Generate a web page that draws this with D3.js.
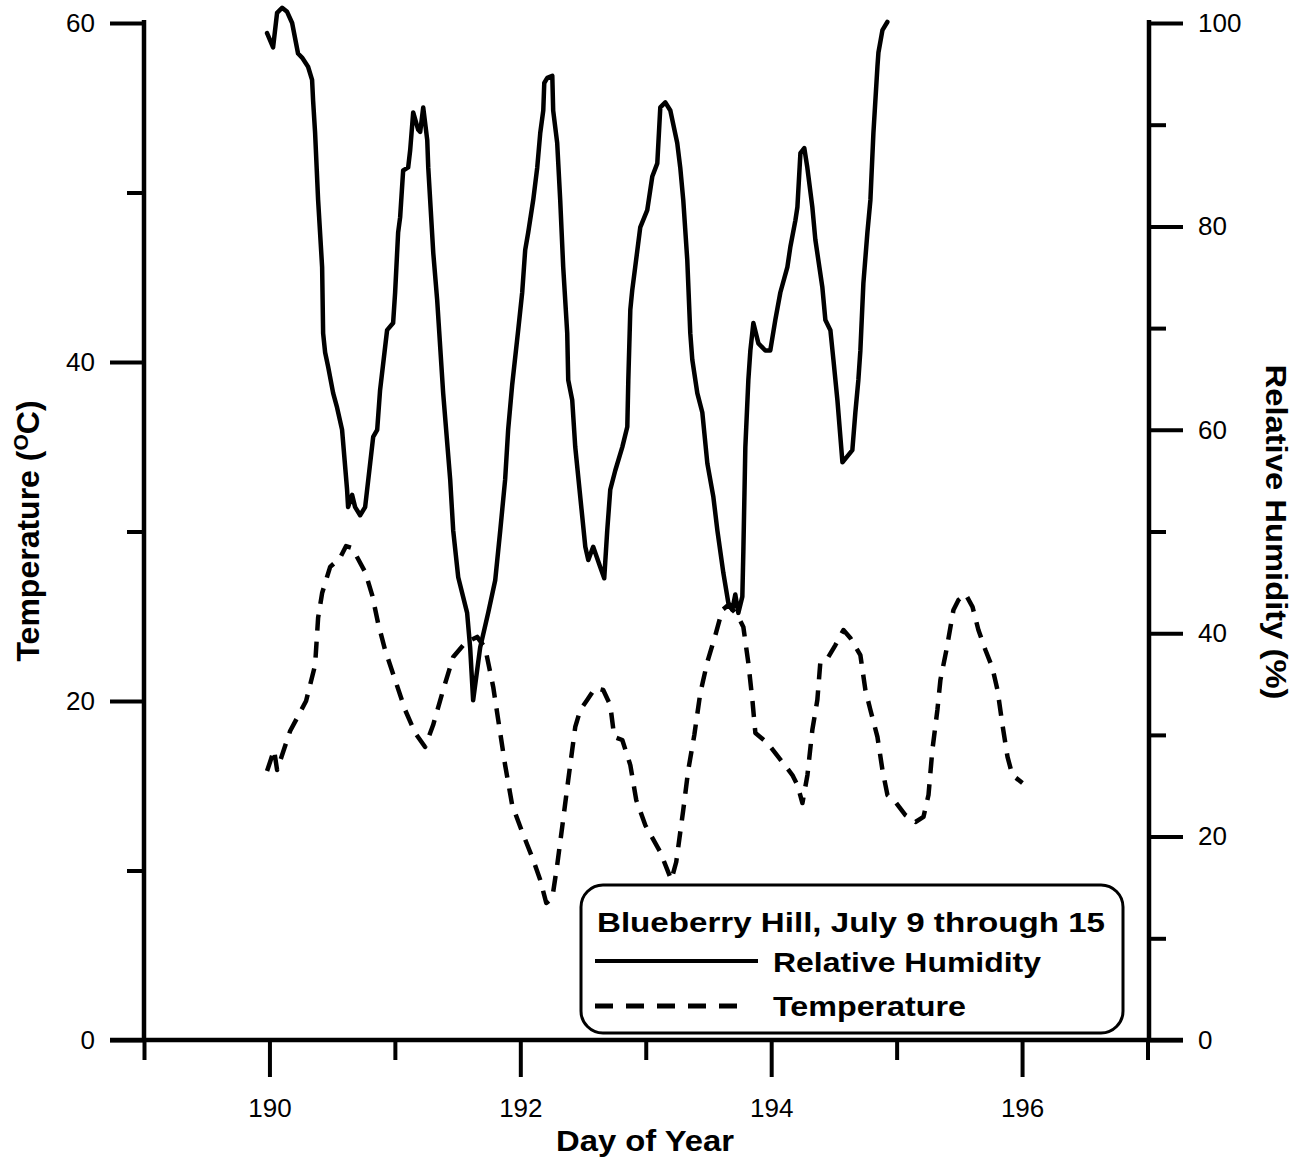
<!DOCTYPE html>
<html>
<head>
<meta charset="utf-8">
<script src="https://cdn.jsdelivr.net/npm/d3@7"></script>
<style>
  html, body { margin: 0; padding: 0; background: #fff; }
  svg { display: block; }
  text { font-family: "Liberation Sans", Arial, sans-serif; fill: #000; }
</style>
</head>
<body>
<svg id="chart" width="1300" height="1162"></svg>
<script>
// ---- Data ----
const rhDay = [189.981,190.029,190.061,190.101,190.141,190.181,190.228,190.260,190.308,190.340,190.348,190.364,190.388,190.420,190.428,190.444,190.468,190.508,190.539,190.579,190.619,190.627,190.659,190.683,190.723,190.763,190.803,190.827,190.859,190.882,190.938,190.986,191.002,191.026,191.042,191.066,191.106,191.122,191.146,191.186,191.202,191.226,191.258,191.266,191.306,191.337,191.385,191.441,191.465,191.505,191.576,191.600,191.624,191.680,191.744,191.800,191.840,191.879,191.903,191.935,191.983,192.015,192.039,192.063,192.103,192.135,192.159,192.183,192.191,192.215,192.255,192.262,192.294,192.318,192.342,192.374,192.382,192.414,192.438,192.478,192.518,192.542,192.581,192.637,192.669,192.693,192.717,192.757,192.813,192.853,192.861,192.877,192.892,192.916,192.956,193.012,193.052,193.092,193.116,193.156,193.196,193.251,193.275,193.299,193.331,193.355,193.371,193.411,193.451,193.491,193.539,193.571,193.619,193.658,193.690,193.714,193.738,193.770,193.778,193.794,193.818,193.834,193.858,193.898,193.953,193.993,194.033,194.073,194.129,194.153,194.193,194.209,194.233,194.264,194.288,194.328,194.352,194.408,194.432,194.472,194.496,194.528,194.568,194.647,194.671,194.695,194.711,194.735,194.767,194.791,194.815,194.847,194.855,194.887,194.926];
const rhVal = [99.0,97.6,101.0,101.5,101.1,100.0,97.0,96.6,95.7,94.4,92.4,89.2,82.6,76.0,69.5,67.6,66.2,63.6,62.2,60.0,54.1,52.4,53.6,52.4,51.6,52.4,56.7,59.3,60.0,63.9,69.8,70.5,73.5,79.4,80.9,85.5,85.8,87.5,91.2,89.5,89.3,91.7,88.5,85.8,77.4,72.8,63.6,55.1,50.1,45.5,42.0,38.6,33.4,38.6,42.0,45.2,50.1,55.1,60.0,64.4,69.8,73.5,77.7,79.4,82.6,85.8,89.2,91.4,94.1,94.6,94.8,91.4,88.2,82.6,76.0,69.5,64.9,62.9,58.3,53.4,48.5,47.2,48.5,46.5,45.4,50.1,54.1,56.0,58.3,60.3,64.9,71.8,73.7,76.0,79.9,81.6,84.9,86.2,91.7,92.2,91.4,88.2,85.8,82.6,76.7,69.5,66.9,63.6,61.7,56.7,53.4,50.1,45.9,43.0,42.3,43.8,42.0,43.6,48.0,58.3,64.9,67.8,70.5,68.5,67.8,67.8,70.8,73.5,76.0,78.0,80.6,81.9,87.2,87.7,85.8,81.9,78.7,74.0,70.8,69.8,66.9,62.9,56.8,58.0,61.7,64.9,67.8,74.4,79.4,82.6,89.2,95.7,97.1,99.3,100.1];

const tDay = [189.981,190.037,190.061,190.165,190.292,190.364,190.388,190.420,190.484,190.563,190.611,190.659,190.763,190.819,190.866,190.922,191.002,191.082,191.162,191.241,191.305,191.385,191.465,191.560,191.656,191.720,191.784,191.824,191.879,191.935,192.015,192.103,192.159,192.207,192.255,192.294,192.334,192.382,192.438,192.478,192.533,192.597,192.661,192.717,192.749,192.813,192.877,192.924,192.996,193.116,193.204,193.243,193.299,193.339,193.387,193.435,193.491,193.555,193.610,193.658,193.730,193.778,193.818,193.850,193.874,193.970,194.089,194.169,194.209,194.249,194.289,194.328,194.368,194.392,194.456,194.512,194.576,194.631,194.711,194.751,194.791,194.847,194.887,194.927,194.990,195.070,195.150,195.214,195.254,195.285,195.325,195.349,195.397,195.453,195.493,195.549,195.605,195.652,195.708,195.764,195.804,195.844,195.884,195.923,196.003];
const tVal = [15.87,17.11,15.93,18.23,20.0,22.12,24.90,26.37,27.91,28.44,29.14,29.03,27.61,26.25,24.60,23.01,21.24,19.47,18.11,17.29,18.58,20.65,22.60,23.42,23.78,23.13,20.83,18.88,16.22,13.86,12.27,10.62,9.44,8.08,8.38,10.32,12.57,15.34,18.47,19.47,20.06,20.77,20.65,19.76,17.88,17.70,16.22,14.16,12.68,11.09,9.44,10.50,13.57,15.93,17.99,20.47,22.30,23.89,25.37,25.66,25.07,24.37,22.24,20.06,18.11,17.52,16.40,15.63,15.04,13.98,15.63,18.29,20.06,22.30,22.60,23.30,24.19,23.72,22.71,20.65,19.47,17.88,15.93,14.45,14.04,13.27,12.86,13.16,14.45,17.11,19.47,21.24,23.01,25.37,25.96,26.31,25.55,24.19,23.01,21.95,20.65,18.58,16.70,15.63,15.16];

const xMajor = [190, 192, 194, 196];
const xMinor = [189, 191, 193, 195, 197];
const tMajor = [0, 20, 40, 60];
const tMinor = [10, 30, 50];
const rhMajor = [0, 20, 40, 60, 80, 100];
const rhMinor = [10, 30, 50, 70, 90];

const titleX = "Day of Year";
const titleL = "Temperature (";
const titleLsup = "O";
const titleLend = "C)";
const titleR = "Relative Humidity (%)";
const legendTitle = "Blueberry Hill, July 9 through 15";
const seriesNames = ["Relative Humidity", "Temperature"];

// ---- Scales ----
const svg = d3.select("#chart");
const x = d3.scaleLinear().domain([189, 197]).range([144, 1147.5]);
const yT = d3.scaleLinear().domain([0, 60]).range([1040, 23]);
const yRH = d3.scaleLinear().domain([0, 100]).range([1040, 23]);

function styleAxis(g) {
  g.select(".domain").remove();
  g.selectAll(".tick line").attr("stroke", "#000").attr("stroke-width", 4);
  g.selectAll(".tick text").attr("font-size", 26).attr("fill", "#000")
    .attr("font-family", '"Liberation Sans", Arial, sans-serif');
}

// Left axis
svg.append("g").attr("transform", "translate(144,0)")
  .call(d3.axisLeft(yT).tickValues(tMajor).tickSize(34).tickPadding(15).tickFormat(d3.format("d")))
  .call(styleAxis);
svg.append("g").attr("transform", "translate(144,0)")
  .call(d3.axisLeft(yT).tickValues(tMinor).tickSize(17).tickFormat(""))
  .call(styleAxis);
// Right axis
svg.append("g").attr("transform", "translate(1149,0)")
  .call(d3.axisRight(yRH).tickValues(rhMajor).tickSize(34).tickPadding(15).tickFormat(d3.format("d")))
  .call(styleAxis);
svg.append("g").attr("transform", "translate(1149,0)")
  .call(d3.axisRight(yRH).tickValues(rhMinor).tickSize(17).tickFormat(""))
  .call(styleAxis);
// Bottom axis
svg.append("g").attr("transform", "translate(0,1040)")
  .call(d3.axisBottom(x).tickValues(xMajor).tickSize(37).tickPadding(22).tickFormat(d3.format("d")))
  .call(styleAxis);
svg.append("g").attr("transform", "translate(0,1040)")
  .call(d3.axisBottom(x).tickValues(xMinor).tickSize(20).tickFormat(""))
  .call(styleAxis);

// Axis lines
svg.append("line").attr("x1", 144).attr("x2", 144).attr("y1", 20).attr("y2", 1042)
  .attr("stroke", "#000").attr("stroke-width", 4.5);
svg.append("line").attr("x1", 1149).attr("x2", 1149).attr("y1", 20).attr("y2", 1042)
  .attr("stroke", "#000").attr("stroke-width", 4.5);
svg.append("line").attr("x1", 110).attr("x2", 1183).attr("y1", 1040).attr("y2", 1040)
  .attr("stroke", "#000").attr("stroke-width", 4.5);

// ---- Lines ----
const rhData = rhDay.map((d, i) => [d, rhVal[i]]);
const tData = tDay.map((d, i) => [d, tVal[i]]);

svg.append("path").datum(rhData)
  .attr("fill", "none").attr("stroke", "#000").attr("stroke-width", 4.5)
  .attr("stroke-linejoin", "round").attr("stroke-linecap", "round")
  .attr("d", d3.line().x(d => x(d[0])).y(d => yRH(d[1])));

svg.append("path").datum(tData)
  .attr("fill", "none").attr("stroke", "#000").attr("stroke-width", 4.5)
  .attr("stroke-dasharray", "16,11")
  .attr("stroke-linejoin", "round")
  .attr("d", d3.line().x(d => x(d[0])).y(d => yT(d[1])));

// ---- Titles ----
svg.append("text").attr("x", 645).attr("y", 1151).attr("text-anchor", "middle")
  .attr("font-size", 30).attr("font-weight", "bold")
  .attr("textLength", 178).attr("lengthAdjust", "spacingAndGlyphs")
  .text(titleX);

const tl = svg.append("text").attr("transform", "translate(39,531) rotate(-90)")
  .attr("text-anchor", "middle").attr("font-size", 32).attr("font-weight", "bold");
tl.append("tspan").text(titleL);
tl.append("tspan").attr("font-size", 21).attr("dy", -11).text(titleLsup);
tl.append("tspan").attr("dy", 11).text(titleLend);

svg.append("text").attr("transform", "translate(1266,532) rotate(90)")
  .attr("text-anchor", "middle").attr("font-size", 30).attr("font-weight", "bold")
  .attr("textLength", 335).attr("lengthAdjust", "spacingAndGlyphs")
  .text(titleR);

// ---- Legend ----
const lg = svg.append("g");
lg.append("rect").attr("x", 581).attr("y", 885).attr("width", 542).attr("height", 148)
  .attr("rx", 22).attr("ry", 22).attr("fill", "#fff").attr("stroke", "#000").attr("stroke-width", 3);
lg.append("text").attr("x", 597).attr("y", 932).attr("font-size", 28).attr("font-weight", "bold")
  .attr("textLength", 508).attr("lengthAdjust", "spacingAndGlyphs").text(legendTitle);
lg.append("line").attr("x1", 595).attr("x2", 758).attr("y1", 961).attr("y2", 961)
  .attr("stroke", "#000").attr("stroke-width", 4);
lg.append("text").attr("x", 773).attr("y", 972).attr("font-size", 28).attr("font-weight", "bold")
  .attr("textLength", 268).attr("lengthAdjust", "spacingAndGlyphs").text(seriesNames[0]);
lg.append("line").attr("x1", 595).attr("x2", 750).attr("y1", 1006).attr("y2", 1006)
  .attr("stroke", "#000").attr("stroke-width", 5).attr("stroke-dasharray", "18,13");
lg.append("text").attr("x", 773).attr("y", 1016).attr("font-size", 28).attr("font-weight", "bold")
  .attr("textLength", 193).attr("lengthAdjust", "spacingAndGlyphs").text(seriesNames[1]);
</script>
</body>
</html>
